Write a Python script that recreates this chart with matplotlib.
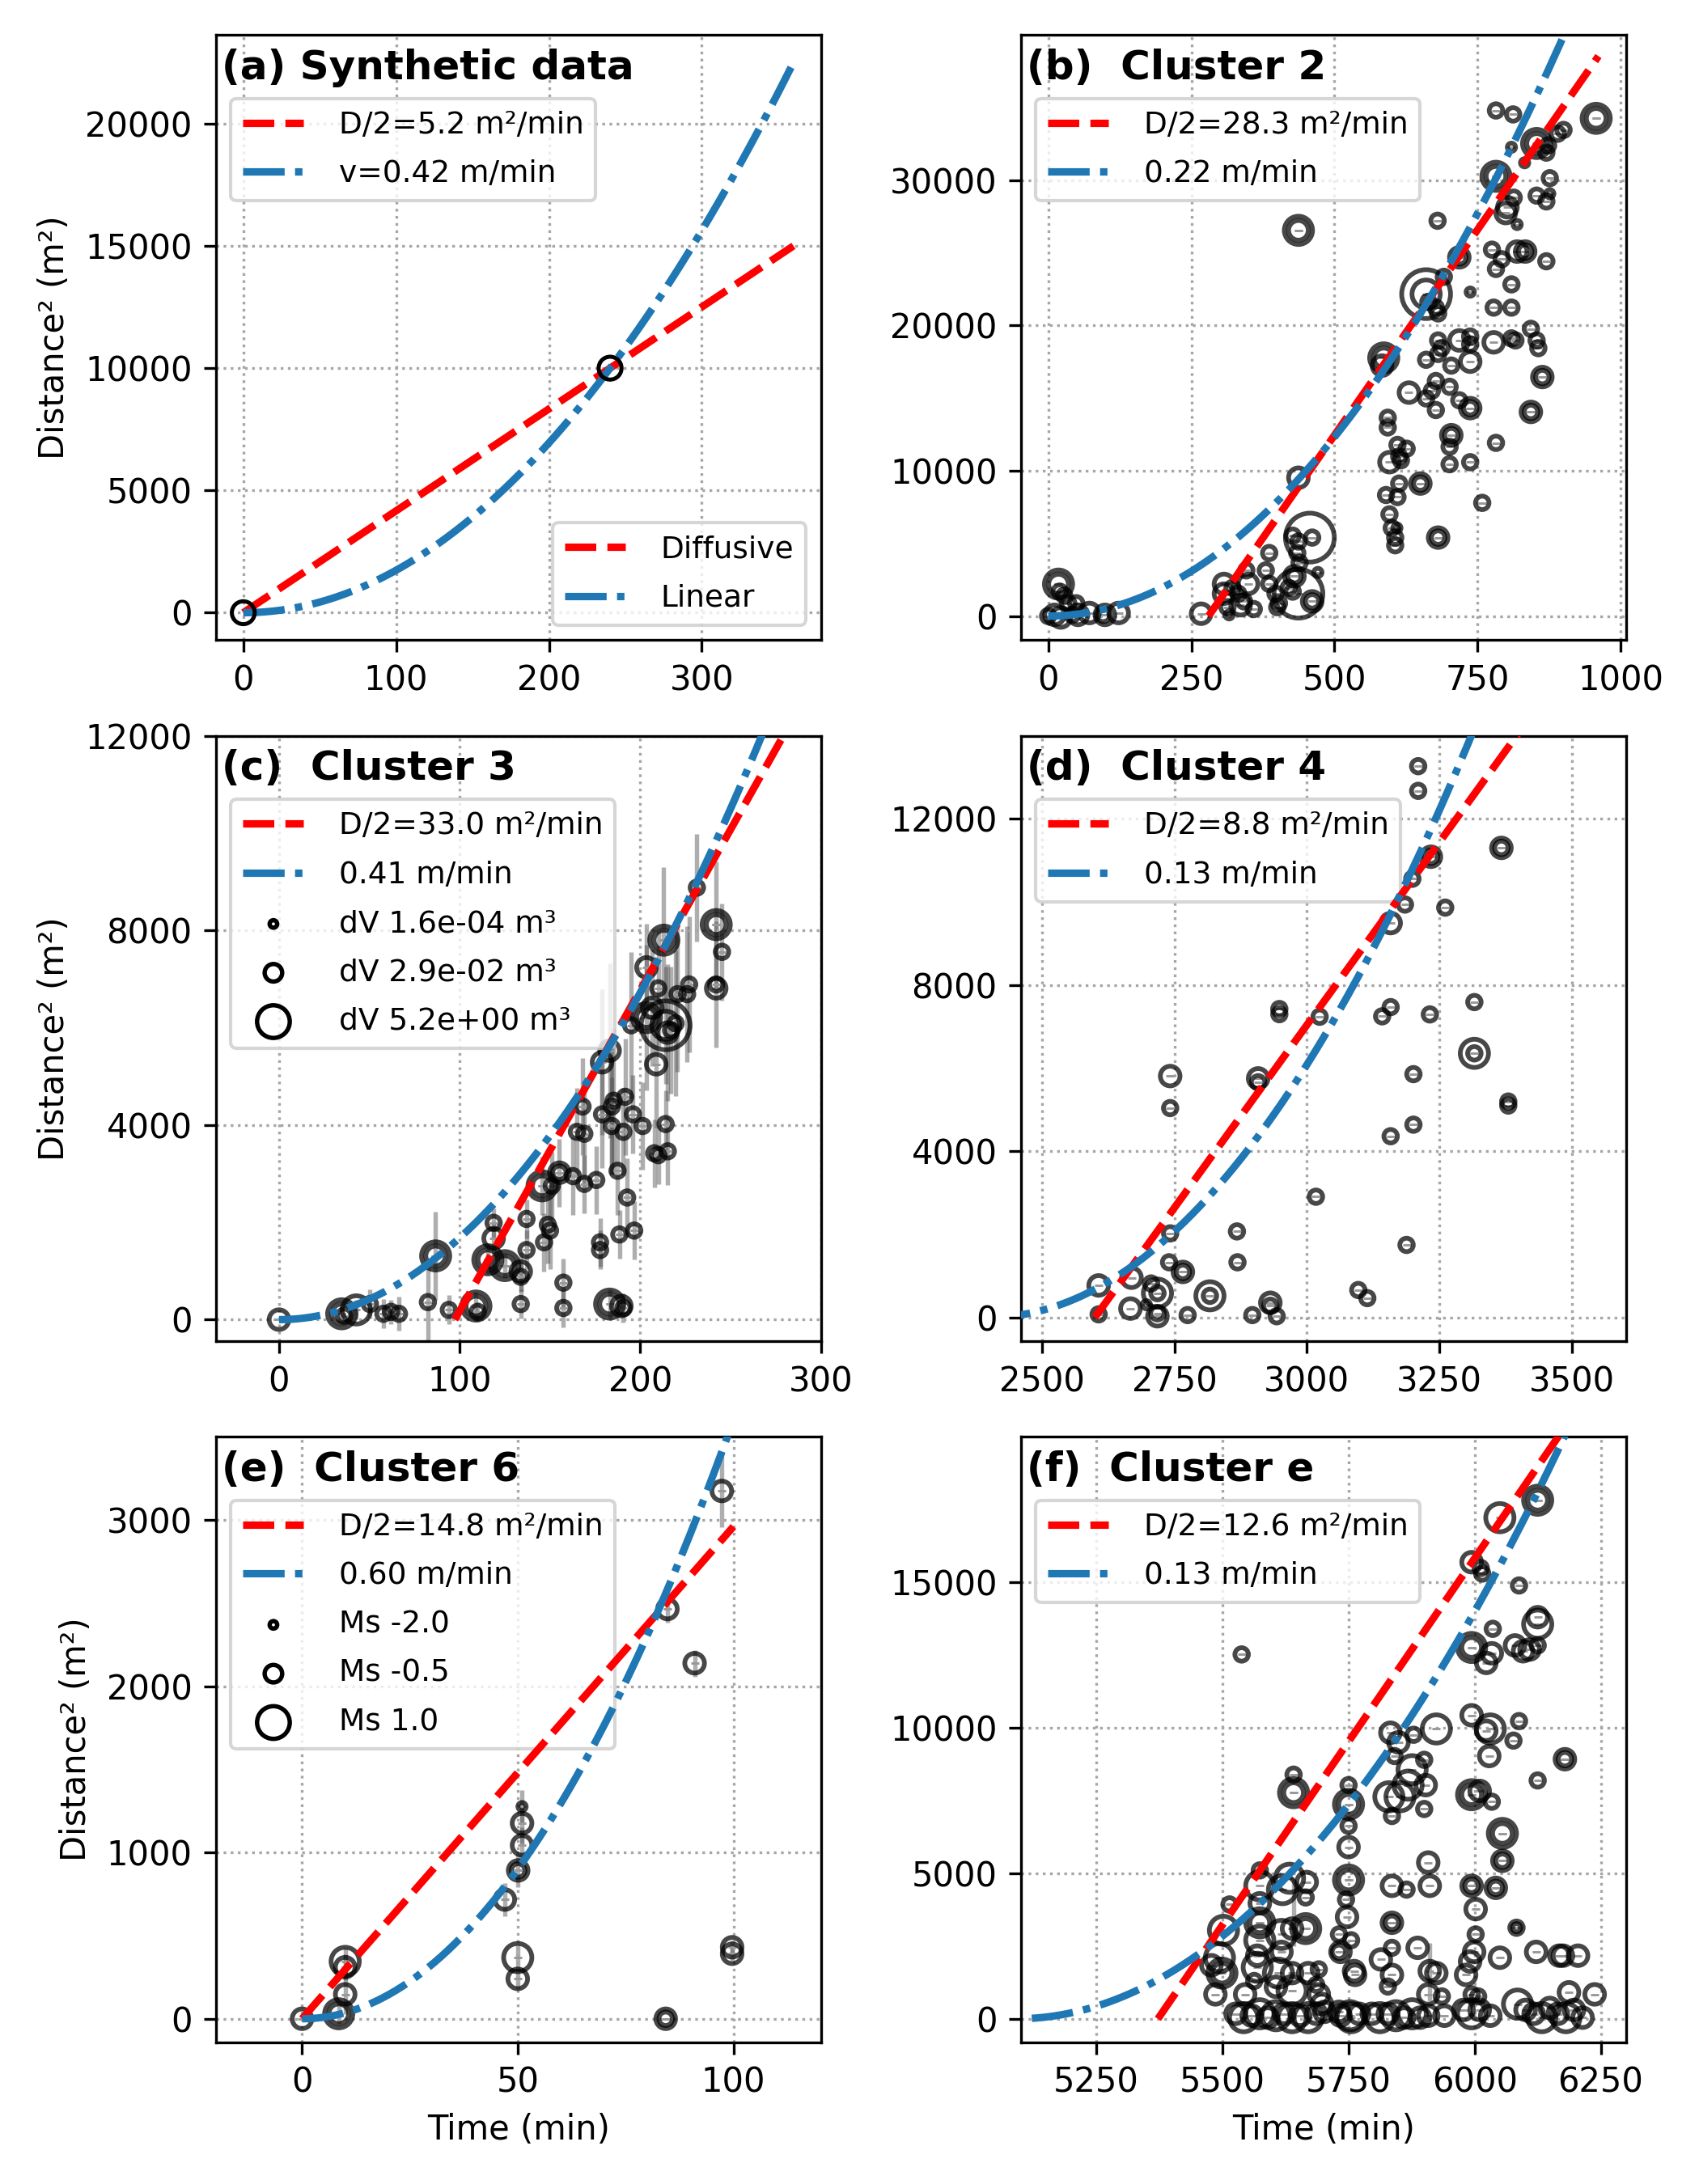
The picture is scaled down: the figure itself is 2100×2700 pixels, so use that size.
import matplotlib.pyplot as plt
import numpy as np

# panel titles
titles = ['(a) Synthetic data', '(b)  Cluster 2', '(c)  Cluster 3',
          '(d)  Cluster 4', '(e)  Cluster 6', '(f)  Cluster e']

# synthetic test points
syn_t = [0, 240]
syn_d2 = [0, 10000]

# events: (time [min], distance^2 [m^2], size class)
pts_b = [(0, 0, 2), (11, 80, 3), (22, -100, 3), (18, 2200, 3), (18, 2200, 4), (20, 1680, 2), (28, 1410, 2),
         (35, 880, 2), (42, 80, 2), (49, 880, 2), (52, 80, 3), (72, 210, 3), (96, 80, 2), (99, 80, 3), (123, 210, 3),
         (267, 160, 3), (307, 2210, 3), (307, 1540, 3), (316, 80, 1), (313, 610, 2), (322, 1940, 2), (332, 1540, 2),
         (336, 745, 3), (346, 3140, 2), (349, 2210, 3), (342, 1010, 2), (359, 480, 2), (386, 4340, 2), (380, 3140, 2),
         (386, 2210, 2), (397, 1540, 2), (403, 880, 2), (400, 610, 2), (427, 5530, 2), (437, 5130, 2), (435, 4340, 2),
         (439, 3670, 2), (430, 2740, 2), (430, 2740, 3), (420, 1940, 2), (427, 1680, 2), (461, 5400, 2), (457, 5400, 5),
         (471, 3000, 1), (437, 1540, 5), (461, 1010, 2), (461, 1010, 3), (437, 9520, 3), (437, 26550, 3), (437, 26550, 4),
         (586, 17770, 3), (586, 17770, 4), (583, 17240, 3), (593, 13650, 2), (593, 12980, 2), (610, 11780, 2),
         (626, 11520, 2), (613, 10990, 2), (596, 10590, 3), (616, 10720, 2), (613, 9120, 2), (590, 8330, 2),
         (610, 8190, 2), (596, 7000, 2), (600, 6060, 2), (609, 6060, 1), (606, 5400, 2), (606, 4870, 2),
         (650, 9120, 2), (650, 9120, 3), (681, 5400, 2), (681, 5400, 3), (660, 22160, 4), (660, 22160, 5),
         (664, 21630, 2), (681, 20830, 2), (677, 21230, 2), (691, 23350, 2), (718, 24690, 3), (718, 24690, 2),
         (680, 27210, 2), (660, 17640, 2), (681, 18970, 2), (681, 18040, 2), (687, 18440, 2), (704, 17240, 2),
         (718, 18970, 3), (737, 19240, 2), (737, 18700, 2), (737, 17510, 3), (677, 16180, 2), (670, 15510, 2),
         (630, 15380, 3), (660, 14980, 2), (701, 15780, 2), (718, 14850, 2), (737, 14310, 3), (737, 14310, 2),
         (677, 14180, 2), (704, 12450, 3), (704, 12450, 2), (701, 11650, 2), (737, 10590, 2), (701, 10450, 2),
         (758, 7790, 2), (782, 11920, 2), (778, 18840, 3), (809, 19110, 2), (816, 18970, 2), (843, 19770, 2),
         (853, 18970, 2), (856, 18440, 2), (863, 16450, 3), (863, 16450, 2), (843, 14050, 2), (843, 14050, 3),
         (778, 21230, 2), (809, 21230, 2), (737, 22300, 1), (809, 22830, 2), (782, 23890, 2), (792, 24560, 2),
         (775, 25220, 2), (819, 25090, 3), (833, 25090, 3), (833, 25090, 2), (870, 24420, 2), (799, 27740, 3),
         (802, 28140, 3), (813, 28800, 2), (819, 26950, 1), (782, 30270, 3), (782, 30270, 4), (809, 32270, 1),
         (853, 32530, 4), (853, 32530, 3), (873, 32400, 2), (876, 30140, 2), (870, 31900, 2), (890, 33200, 2),
         (900, 33460, 2), (853, 28940, 2), (870, 28540, 2), (782, 34800, 2), (812, 34530, 2), (832, 31200, 1),
         (957, 34260, 4), (957, 34260, 3), (876, 29070, 1)]

# events with error: (time, distance^2, size class, error)
pts_c = [(0, 0, 3, 0), (34.7, 120, 4, 150), (34.7, 120, 3, 0), (42.8, 200, 4, 200), (36, 80, 2, 0),
         (50.3, 320, 2, 300), (57.8, 120, 2, 300), (62, 160, 2, 250), (66.4, 120, 2, 350), (82.4, 360, 2, 800),
         (94, 200, 2, 300), (109, 280, 3, 300), (109, 280, 4, 0), (110, 160, 2, 200), (86.7, 1310, 3, 900),
         (86.7, 1310, 4, 0), (118.8, 1990, 2, 300), (118.8, 1670, 3, 300), (115.6, 1230, 3, 300), (115.6, 1230, 4, 0),
         (125, 1110, 3, 250), (125, 1110, 4, 0), (133.8, 990, 3, 400), (133.8, 880, 2, 300), (137, 2070, 2, 400),
         (137, 1430, 2, 400), (133.8, 320, 2, 300), (145.6, 2750, 3, 600), (145.6, 2750, 4, 0), (151, 2750, 2, 700),
         (148.8, 1950, 2, 800), (150, 1830, 2, 800), (146.7, 1590, 2, 600), (155.2, 3020, 2, 700), (155.2, 3020, 3, 0),
         (162.7, 2950, 2, 800), (169, 2790, 2, 600), (175.6, 2870, 2, 700), (157.4, 760, 2, 500), (157.4, 240, 2, 400),
         (177.7, 1590, 2, 500), (177.7, 1430, 2, 400), (183, 320, 4, 300), (183, 320, 3, 0), (190.6, 240, 2, 300),
         (189.5, 280, 3, 0), (188.4, 1750, 2, 500), (196.6, 1830, 2, 600), (192.7, 2510, 2, 800), (187.4, 3060, 2, 900),
         (164.9, 3860, 2, 900), (169, 3820, 2, 1100), (168, 4380, 2, 1000), (178.8, 4220, 2, 1100),
         (184.2, 4380, 2, 1400), (185.2, 4500, 2, 1500), (191.6, 4580, 2, 1200), (184.2, 3980, 2, 1000),
         (190.6, 3860, 2, 900), (195.9, 4220, 2, 800), (201.3, 3980, 2, 900), (214, 4020, 2, 700),
         (207.7, 3420, 2, 700), (209.9, 3380, 2, 600), (215.2, 3460, 2, 700), (178.8, 5290, 3, 1500),
         (183, 5530, 3, 1800), (194.9, 6050, 2, 1500), (203.4, 6210, 3, 1500), (203.4, 6210, 4, 0),
         (208.8, 5250, 3, 1300), (214, 6050, 5, 1200), (214, 6050, 4, 0), (215, 5900, 3, 1400), (219.5, 6090, 2, 1500),
         (217, 5950, 2, 1300), (203.4, 7240, 3, 900), (209.9, 6810, 2, 1200), (220.6, 6690, 2, 1600),
         (225.9, 6690, 2, 1400), (227, 6890, 2, 1400), (213, 7800, 4, 1500), (213, 7800, 3, 0), (231.3, 8880, 2, 1100),
         (242, 8120, 4, 1300), (242, 8120, 3, 0), (245.2, 7560, 2, 1000), (242, 6890, 2, 1300), (242, 6810, 3, 0),
         (206.6, 6410, 3, 1200)]

pts_d = [(2607, 74, 2), (2607, 770, 3), (2667, 213, 3), (2669, 956, 3), (2697, 306, 1), (2706, 817, 2),
         (2718, 585, 4), (2718, 585, 2), (2718, 28, 3), (2718, 100, 2), (2740, 1327, 2), (2742, 2023, 2),
         (2766, 1095, 3), (2766, 1095, 2), (2775, 56, 2), (2817, 520, 4), (2817, 520, 2), (2868, 2070, 2),
         (2869, 1327, 2), (2897, 56, 2), (2931, 353, 3), (2931, 280, 2), (2943, 28, 2), (2742, 5810, 3),
         (2742, 5039, 2), (2908, 5754, 3), (2908, 5660, 2), (2948, 7424, 2), (2948, 7300, 2), (3024, 7238, 2),
         (3017, 2905, 2), (3097, 659, 2), (3114, 464, 2), (3142, 7248, 2), (3158, 7470, 2), (3158, 9493, 3),
         (3185, 9939, 2), (3199, 10560, 2), (3234, 11090, 3), (3234, 11090, 2), (3210, 13270, 2), (3210, 12676, 2),
         (3232, 7294, 2), (3201, 5856, 2), (3158, 4362, 2), (3201, 4640, 2), (3188, 1745, 2), (3261, 9865, 2),
         (3316, 7591, 2), (3316, 6357, 4), (3316, 6357, 2), (3367, 11303, 3), (3367, 11303, 2), (3380, 5197, 2),
         (3380, 5100, 2)]

pts_e = [(0, 0, 3, 0), (8.5, 30, 4, 60), (8.5, 30, 3, 0), (10, 345, 4, 80), (10, 310, 3, 80), (10, 147, 3, 120),
         (47, 717, 3, 100), (50.1, 892, 3, 100), (50.1, 892, 2, 0), (51, 1176, 3, 120), (51, 1043, 3, 110),
         (51, 1276, 1, 100), (50, 368, 4, 80), (50, 240, 3, 60), (84.7, 2464, 3, 80), (84.3, 0, 3, 0),
         (84.3, 0, 2, 0), (91, 2138, 3, 80), (97.3, 3174, 3, 220), (99.7, 430, 3, 40), (99.7, 391, 3, 40)]

pts_f = [(5538, 12520, 2), (5641, 8390, 2), (5641, 7770, 4), (5641, 7770, 3), (5514, 3930, 2), (5502, 3040, 4),
         (5494, 2100, 4), (5478, 1840, 3), (5499, 1570, 4), (5499, 1570, 3), (5486, 840, 3), (5574, 5100, 2),
         (5574, 4570, 4), (5574, 3970, 3), (5574, 3300, 4), (5574, 3300, 3), (5574, 2700, 4), (5569, 2170, 3),
         (5569, 1770, 4), (5563, 1300, 2), (5545, 840, 3), (5619, 4440, 4), (5633, 4830, 4), (5617, 2900, 4),
         (5638, 3100, 3), (5665, 3100, 4), (5665, 3100, 3), (5665, 4170, 2), (5667, 4700, 3), (5617, 2300, 3),
         (5611, 1570, 4), (5638, 1570, 3), (5670, 1570, 3), (5691, 1700, 2), (5686, 1170, 2), (5638, 970, 4),
         (5606, 1100, 3), (5691, 840, 3), (5750, 8030, 2), (5750, 7370, 4), (5750, 7370, 3), (5750, 6630, 2),
         (5750, 5900, 3), (5750, 4770, 4), (5750, 4770, 3), (5745, 4100, 2), (5747, 3500, 3), (5731, 2900, 2),
         (5731, 2300, 2), (5755, 2700, 2), (5761, 1640, 3),
         (5526, 173, 3), (5542, 40, 4), (5558, 107, 3), (5574, 173, 4), (5590, 40, 3), (5606, 107, 4),
         (5622, 173, 3), (5638, 40, 4), (5654, 107, 3), (5670, 40, 4), (5686, 173, 3), (5702, 240, 3),
         (5697, 510, 3), (5734, 107, 3), (5755, 40, 4), (5771, 173, 3),
         (6050, 17220, 4), (6125, 17820, 4), (6125, 17820, 3), (5994, 15690, 3), (6012, 15490, 2), (6015, 15300, 2),
         (6088, 14890, 2), (6125, 13560, 4), (6125, 13800, 3), (6036, 13400, 2), (5994, 12760, 4), (5994, 12760, 3),
         (6034, 12560, 3), (6023, 12230, 3), (6080, 12830, 3), (6096, 12630, 3), (6109, 12690, 3), (6125, 12830, 2),
         (5994, 10430, 3), (6023, 9900, 3), (6031, 9960, 4), (6088, 10230, 2), (6077, 9560, 2), (6029, 9030, 3),
         (6179, 8920, 3), (6179, 8920, 2), (6125, 8190, 2), (5994, 7700, 4), (5994, 7700, 3), (6010, 7830, 3),
         (6034, 7460, 2), (6055, 6370, 4), (6055, 6370, 3), (6055, 5430, 3), (6055, 5430, 2), (5994, 4570, 3),
         (5994, 4570, 2), (6042, 4500, 3), (6042, 4500, 2), (6002, 3770, 3), (6002, 2900, 2), (5999, 2300, 3),
         (5991, 1970, 3), (5983, 1510, 3), (6083, 3130, 2), (6083, 3130, 1), (6050, 2100, 3), (6122, 2300, 3),
         (6168, 2170, 3), (6175, 2170, 3), (6205, 2170, 3), (6187, 910, 3), (6238, 840, 3), (5994, 840, 2),
         (6007, 770, 2),
         (5978, 306, 3), (5994, 173, 4), (6010, 306, 3), (6031, 107, 3), (6085, 506, 4), (6101, 306, 3),
         (6117, 173, 3), (6133, 40, 4), (6149, 373, 3), (6165, 173, 3), (6181, 40, 4), (6197, 306, 3), (6214, 40, 3),
         (5833, 9830, 3), (5879, 9760, 2), (5849, 9500, 3), (5924, 9960, 4), (5841, 9030, 2), (5876, 8560, 4),
         (5900, 8900, 2), (5903, 8030, 3), (5868, 8030, 4), (5852, 7630, 4), (5830, 7630, 4), (5900, 7210, 2),
         (5836, 6970, 2), (5908, 5370, 3), (5911, 4570, 3), (5836, 4570, 3), (5865, 4440, 2), (5836, 3300, 3),
         (5836, 3300, 2), (5836, 2440, 2), (5887, 2440, 3), (5814, 2040, 3), (5836, 1510, 3), (5911, 1640, 3),
         (5924, 1570, 3), (5908, 840, 3), (5935, 770, 2), (5828, 1110, 2), (5763, 1510, 3), (5734, 2300, 3),
         (5731, 240, 3), (5753, 107, 4), (5796, 173, 3), (5812, 40, 4), (5828, 173, 3), (5844, 107, 4),
         (5860, 40, 3), (5876, 173, 4), (5892, 40, 3), (5908, 107, 3), (5940, 107, 3)]
# the few visible error bars in (f)
f_err_t = [5641, 5911]
f_err_d2 = [3650, 1600]
f_err = [1150, 1000]

# fit parameters per panel (b-f); (a) comes from the synthetic points
dhalf = [5.2, 28.3, 33.0, 8.8, 14.8, 12.6]
diff_on = [0, 280, 97.3, 2600, 0, 5372]
diff_end = [360, 961, 290, 3420, 100, 6200]
vel = [0.4167, 0.222, 0.41, 0.13, 0.60, 0.13]
vel_on = [0, 0, 0, 2400, 0, 5090]
vel_start = [0, 0, 0, 2400, 0, 5122]
vel_end = [360, 961, 290, 3420, 100, 6300]
vel_labels = ['v=0.42 m/min', '0.22 m/min', '0.41 m/min', '0.13 m/min', '0.60 m/min', '0.13 m/min']

# legend size keys
dv_labels = ['dV 1.6e-04 m³', 'dV 2.9e-02 m³', 'dV 5.2e+00 m³']
ms_labels = ['Ms -2.0', 'Ms -0.5', 'Ms 1.0']
key_sizes = [5, 27, 94]

xlims = [(-18, 378), (-48, 1009), (-35, 300), (2460, 3602), (-20, 120.3), (5100, 6300)]
ylims = [(-1125, 23625), (-1665, 40000), (-442, 12000), (-571, 14000), (-140, 3500), (-798, 20000)]
xticks = [[0, 100, 200, 300], [0, 250, 500, 750, 1000], [0, 100, 200, 300],
          [2500, 2750, 3000, 3250, 3500], [0, 50, 100], [5250, 5500, 5750, 6000, 6250]]
yticks = [[0, 5000, 10000, 15000, 20000], [0, 10000, 20000, 30000], [0, 4000, 8000, 12000],
          [0, 4000, 8000, 12000], [0, 1000, 2000, 3000], [0, 5000, 10000, 15000]]

size_map = {1: 6, 2: 16, 3: 34, 4: 70, 5: 210}


def draw_events(ax, pts, err=False):
    t = [p[0] for p in pts]
    d = [p[1] for p in pts]
    s = [size_map[p[2]] for p in pts]
    if err:
        e = [p[3] for p in pts]
        ax.errorbar(t, d, yerr=e, fmt='none', ecolor='0.3', alpha=0.45, elinewidth=1.3, zorder=1)
    ax.scatter(t, d, marker='_', s=6, c='0.6', linewidths=0.7, zorder=2)
    ax.scatter(t, d, s=s, facecolors='none', edgecolors='k', alpha=0.72, linewidths=1.4, zorder=3)


fig, axes = plt.subplots(3, 2, figsize=(7, 9), dpi=300)
axes = axes.ravel()
plt.subplots_adjust(left=0.127, right=0.957, top=0.984, bottom=0.065, wspace=0.33, hspace=0.158)

leg_kw = dict(fontsize=9, handlelength=2.0, handletextpad=1.15, labelspacing=0.65, scatterpoints=1)
red_kw = dict(color='red', ls=(0, (4.2, 1.5)), lw=2.2, zorder=6)
blue_kw = dict(color='tab:blue', ls=(0, (5.6, 1.4, 1.0, 1.4)), lw=2.2, zorder=6)

for i, ax in enumerate(axes):
    if i == 0:
        slope = syn_d2[1] / syn_t[1]
        v = np.sqrt(syn_d2[1]) / syn_t[1]
        ax.scatter(syn_t, syn_d2, s=46, facecolors='none', edgecolors='k', linewidths=1.2, zorder=7)
        td = np.linspace(0, 360, 100)
        l1, = ax.plot(td, slope * td, **red_kw)
        l2, = ax.plot(td, (v * td) ** 2, **blue_kw)
    else:
        td = np.linspace(diff_on[i], diff_end[i], 100)
        tv = np.linspace(vel_start[i], vel_end[i], 200)
        l1, = ax.plot(td, 2 * dhalf[i] * (td - diff_on[i]), **red_kw)
        l2, = ax.plot(tv, (vel[i] * (tv - vel_on[i])) ** 2, **blue_kw)

    handles = [l1, l2]
    labels = ['D/2=%.1f m²/min' % dhalf[i], vel_labels[i]]

    if i == 1:
        draw_events(ax, pts_b)
    elif i == 2:
        draw_events(ax, pts_c, err=True)
        for s, lab in zip(key_sizes, dv_labels):
            handles.append(ax.scatter([], [], s=s, facecolors='none', edgecolors='k', linewidths=1.3))
            labels.append(lab)
    elif i == 3:
        draw_events(ax, pts_d)
    elif i == 4:
        draw_events(ax, pts_e, err=True)
        for s, lab in zip(key_sizes, ms_labels):
            handles.append(ax.scatter([], [], s=s, facecolors='none', edgecolors='k', linewidths=1.3))
            labels.append(lab)
    elif i == 5:
        ax.errorbar(f_err_t, f_err_d2, yerr=f_err, fmt='none', ecolor='0.3', alpha=0.45, elinewidth=1.3, zorder=1)
        draw_events(ax, pts_f)

    leg = ax.legend(handles, labels, loc='upper left', bbox_to_anchor=(0, 0.92), **leg_kw)
    if i == 0:
        ax.add_artist(leg)
        ax.legend([l1, l2], ['Diffusive', 'Linear'], loc='lower right', **leg_kw)

    ax.text(0.01, 0.978, titles[i], transform=ax.transAxes, ha='left', va='top',
            fontsize=12, fontweight='bold')
    ax.set_xlim(xlims[i])
    ax.set_ylim(ylims[i])
    ax.set_xticks(xticks[i])
    ax.set_yticks(yticks[i])
    ax.grid(True, ls=':', color='0.65', lw=0.8)
    ax.tick_params(labelsize=10)
    if i % 2 == 0:
        ax.set_ylabel('Distance² (m²)', fontsize=10)
    if i >= 4:
        ax.set_xlabel('Time (min)', fontsize=10)

plt.savefig('out.png', dpi=300)
